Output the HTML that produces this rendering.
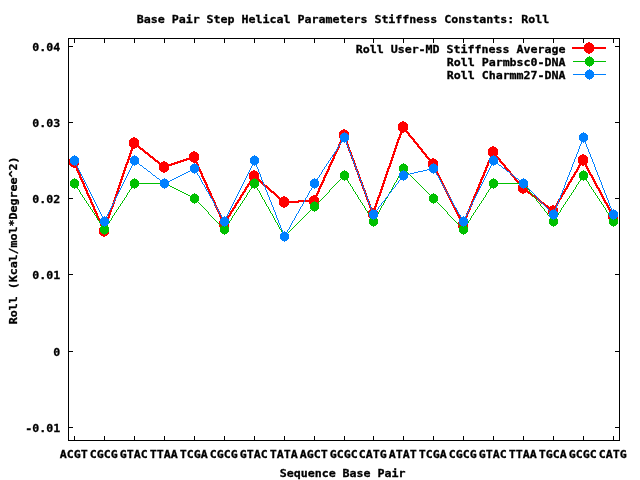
<!DOCTYPE html>
<html lang="en"><head><meta charset="utf-8"><title>Base Pair Step Helical Parameters Stiffness Constants: Roll</title>
<style>
html,body{margin:0;padding:0;background:#fff;}
body{width:640px;height:480px;overflow:hidden;}
svg{display:block;}
text{font-family:"DejaVu Sans Mono","Liberation Mono",monospace;font-weight:bold;font-size:11.627px;fill:#000;stroke:#000;stroke-width:0.3px;white-space:pre;}
.fr{fill:none;stroke:#000;stroke-width:1;shape-rendering:crispEdges;}
.px{stroke:none;shape-rendering:crispEdges;}
.r{fill:#ff0000;}.g{fill:#00c000;}.b{fill:#0080ff;}
</style></head><body>
<svg width="640" height="480" viewBox="0 0 640 480">
<defs>
<path id="ms" d="M0 -5h1v1h-1zM-2 -4h5v1h-5zM-3 -3h7v1h-7zM-4 -2h9v5h-9zM-3 3h7v1h-7zM-2 4h5v1h-5zM0 5h1v1h-1z"/>
<path id="mb" d="M-1 -6h2v1h-2zM-3 -5h6v1h-6zM-4 -4h8v1h-8zM-5 -3h10v6h-10zM-4 3h8v1h-8zM-3 4h6v1h-6zM-1 5h2v1h-2z"/>
</defs>
<rect x="0" y="0" width="640" height="480" fill="#ffffff"/>
<rect class="fr" x="68.5" y="38.5" width="551" height="402"/>
<path class="fr" d="M74.5 440V436M74.5 39V43M104.5 440V436M104.5 39V43M134.5 440V436M134.5 39V43M164.5 440V436M164.5 39V43M194.5 440V436M194.5 39V43M224.5 440V436M224.5 39V43M254.5 440V436M254.5 39V43M284.5 440V436M284.5 39V43M314.5 440V436M314.5 39V43M344.5 440V436M344.5 39V43M373.5 440V436M373.5 39V43M403.5 440V436M403.5 39V43M433.5 440V436M433.5 39V43M463.5 440V436M463.5 39V43M493.5 440V436M493.5 39V43M523.5 440V436M523.5 39V43M553.5 440V436M553.5 39V43M583.5 440V436M583.5 39V43M613.5 440V436M613.5 39V43M69 46.5H73M619 46.5H615M69 122.5H73M619 122.5H615M69 198.5H73M619 198.5H615M69 274.5H73M619 274.5H615M69 351.5H73M619 351.5H615M69 427.5H73M619 427.5H615"/>
<text transform="translate(136.7 23) scale(1 0.945)">Base Pair Step Helical Parameters Stiffness Constants: Roll</text>
<text transform="translate(32.2 51) scale(1 0.945)">0.04</text>
<text transform="translate(32.2 127) scale(1 0.945)">0.03</text>
<text transform="translate(32.2 203) scale(1 0.945)">0.02</text>
<text transform="translate(32.2 279) scale(1 0.945)">0.01</text>
<text transform="translate(53.2 356) scale(1 0.945)">0</text>
<text transform="translate(25.2 432) scale(1 0.945)">-0.01</text>
<text transform="translate(59.7 458) scale(1 0.945)">ACGT</text>
<text transform="translate(89.7 458) scale(1 0.945)">CGCG</text>
<text transform="translate(119.7 458) scale(1 0.945)">GTAC</text>
<text transform="translate(149.7 458) scale(1 0.945)">TTAA</text>
<text transform="translate(179.7 458) scale(1 0.945)">TCGA</text>
<text transform="translate(209.7 458) scale(1 0.945)">CGCG</text>
<text transform="translate(239.7 458) scale(1 0.945)">GTAC</text>
<text transform="translate(269.7 458) scale(1 0.945)">TATA</text>
<text transform="translate(299.7 458) scale(1 0.945)">AGCT</text>
<text transform="translate(329.7 458) scale(1 0.945)">GCGC</text>
<text transform="translate(358.7 458) scale(1 0.945)">CATG</text>
<text transform="translate(388.7 458) scale(1 0.945)">ATAT</text>
<text transform="translate(418.7 458) scale(1 0.945)">TCGA</text>
<text transform="translate(448.7 458) scale(1 0.945)">CGCG</text>
<text transform="translate(478.7 458) scale(1 0.945)">GTAC</text>
<text transform="translate(508.7 458) scale(1 0.945)">TTAA</text>
<text transform="translate(538.7 458) scale(1 0.945)">TGCA</text>
<text transform="translate(568.7 458) scale(1 0.945)">GCGC</text>
<text transform="translate(598.7 458) scale(1 0.945)">CATG</text>
<text transform="translate(279.7 477) scale(1 0.945)">Sequence Base Pair</text>
<text transform="translate(17 324.3) rotate(-90) scale(1 0.945)">Roll (Kcal/mol*Degree^2)</text>
<text transform="translate(355.7 53) scale(1 0.945)">Roll User-MD Stiffness Average</text>
<path class="px r" d="M573 47L606 47L606 49L573 49ZM572 47L605 47L605 49L572 49Z"/>
<use class="px r" href="#mb" x="589" y="48"/>
<text transform="translate(446.7 66) scale(1 0.945)">Roll Parmbsc0-DNA</text>
<path class="px g" d="M573 61L606 61L606 62L573 62Z"/>
<use class="px g" href="#ms" x="589" y="61"/>
<text transform="translate(446.7 79) scale(1 0.945)">Roll Charmm27-DNA</text>
<path class="px b" d="M573 74L606 74L606 75L573 75Z"/>
<use class="px b" href="#ms" x="589" y="74"/>
<path class="px r" d="M72.78 162L74.78 162L105.22 232L103.22 232ZM72.78 161L74.78 161L105.22 231L103.22 231ZM133.17 143L135.17 143L104.83 232L102.83 232ZM133.17 142L135.17 142L104.83 231L102.83 231ZM134 141.6L165 166.4L165 168.4L134 143.6ZM133 141.6L164 166.4L164 168.4L133 143.6ZM164 166.17L195 155.83L195 157.83L164 168.17ZM163 166.17L194 155.83L194 157.83L163 168.17ZM192.78 157L194.78 157L225.22 225L223.22 225ZM192.78 156L194.78 156L225.22 224L223.22 224ZM253.31 176L255.31 176L224.69 225L222.69 225ZM253.31 175L255.31 175L224.69 224L222.69 224ZM254 174.57L285 201.43L285 203.43L254 176.57ZM253 174.57L284 201.43L284 203.43L253 176.57ZM284 201.02L315 199.98L315 201.98L284 203.02ZM283 201.02L314 199.98L314 201.98L283 203.02ZM343.23 135L345.23 135L314.77 202L312.77 202ZM343.23 134L345.23 134L314.77 201L312.77 201ZM342.82 135L344.82 135L374.18 215L372.18 215ZM342.82 134L344.82 134L374.18 214L372.18 214ZM402.17 127L404.17 127L373.83 215L371.83 215ZM402.17 126L404.17 126L373.83 214L371.83 214ZM401.59 127L403.59 127L434.41 165L432.41 165ZM401.59 126L403.59 126L434.41 164L432.41 164ZM431.75 164L433.75 164L464.25 226L462.25 226ZM431.75 163L433.75 163L464.25 225L462.25 225ZM492.21 152L494.21 152L463.79 226L461.79 226ZM492.21 151L494.21 151L463.79 225L461.79 225ZM491.58 152L493.58 152L524.42 189L522.42 189ZM491.58 151L493.58 151L524.42 188L522.42 188ZM523 186.62L554 210.38L554 212.38L523 188.62ZM522 186.62L553 210.38L553 212.38L522 188.62ZM582.29 160L584.29 160L553.71 212L551.71 212ZM582.29 159L584.29 159L553.71 211L551.71 211ZM581.73 160L583.73 160L614.27 217L612.27 217ZM581.73 159L583.73 159L614.27 216L612.27 216Z"/>
<use class="px r" href="#mb" x="74" y="162"/>
<use class="px r" href="#mb" x="104" y="231"/>
<use class="px r" href="#mb" x="134" y="143"/>
<use class="px r" href="#mb" x="164" y="167"/>
<use class="px r" href="#mb" x="194" y="157"/>
<use class="px r" href="#mb" x="224" y="224"/>
<use class="px r" href="#mb" x="254" y="176"/>
<use class="px r" href="#mb" x="284" y="202"/>
<use class="px r" href="#mb" x="314" y="201"/>
<use class="px r" href="#mb" x="344" y="135"/>
<use class="px r" href="#mb" x="373" y="214"/>
<use class="px r" href="#mb" x="403" y="127"/>
<use class="px r" href="#mb" x="433" y="164"/>
<use class="px r" href="#mb" x="463" y="225"/>
<use class="px r" href="#mb" x="493" y="152"/>
<use class="px r" href="#mb" x="523" y="188"/>
<use class="px r" href="#mb" x="553" y="211"/>
<use class="px r" href="#mb" x="583" y="160"/>
<use class="px r" href="#mb" x="613" y="216"/>
<path class="px g" d="M73.67 183L74.67 183L105.33 230L104.33 230ZM134.33 183L135.33 183L104.67 230L103.67 230ZM134 183L165 183L165 184L134 184ZM164 182.75L195 198.25L195 199.25L164 183.75ZM193.52 198L194.52 198L225.48 230L224.48 230ZM254.33 183L255.33 183L224.67 230L223.67 230ZM253.72 183L254.72 183L285.28 237L284.28 237ZM284 236.5L315 205.5L315 206.5L284 237.5ZM344.48 175L345.48 175L314.52 207L313.52 207ZM343.68 175L344.68 175L374.32 222L373.32 222ZM403.28 168L404.28 168L373.72 222L372.72 222ZM403 167.5L434 198.5L434 199.5L403 168.5ZM432.52 198L433.52 198L464.48 230L463.48 230ZM493.33 183L494.33 183L463.67 230L462.67 230ZM493 183L524 183L524 184L493 184ZM522.61 183L523.61 183L554.39 222L553.39 222ZM583.33 175L584.33 175L553.67 222L552.67 222ZM582.67 175L583.67 175L614.33 222L613.33 222Z"/>
<use class="px g" href="#ms" x="74" y="183"/>
<use class="px g" href="#ms" x="104" y="229"/>
<use class="px g" href="#ms" x="134" y="183"/>
<use class="px g" href="#ms" x="164" y="183"/>
<use class="px g" href="#ms" x="194" y="198"/>
<use class="px g" href="#ms" x="224" y="229"/>
<use class="px g" href="#ms" x="254" y="183"/>
<use class="px g" href="#ms" x="284" y="236"/>
<use class="px g" href="#ms" x="314" y="206"/>
<use class="px g" href="#ms" x="344" y="175"/>
<use class="px g" href="#ms" x="373" y="221"/>
<use class="px g" href="#ms" x="403" y="168"/>
<use class="px g" href="#ms" x="433" y="198"/>
<use class="px g" href="#ms" x="463" y="229"/>
<use class="px g" href="#ms" x="493" y="183"/>
<use class="px g" href="#ms" x="523" y="183"/>
<use class="px g" href="#ms" x="553" y="221"/>
<use class="px g" href="#ms" x="583" y="175"/>
<use class="px g" href="#ms" x="613" y="221"/>
<path class="px b" d="M73.75 160L74.75 160L105.25 222L104.25 222ZM134.25 160L135.25 160L104.75 222L103.75 222ZM134 159.62L165 183.38L165 184.38L134 160.62ZM164 183.25L195 167.75L195 168.75L164 184.25ZM193.72 168L194.72 168L225.28 222L224.28 222ZM254.25 160L255.25 160L224.75 222L223.75 222ZM253.8 160L254.8 160L285.2 237L284.2 237ZM314.28 183L315.28 183L284.72 237L283.72 237ZM344.33 137L345.33 137L314.67 184L313.67 184ZM343.81 137L344.81 137L374.19 215L373.19 215ZM403.38 175L404.38 175L373.62 215L372.62 215ZM403 175.12L434 167.88L434 168.88L403 176.12ZM432.72 168L433.72 168L464.28 222L463.28 222ZM493.25 160L494.25 160L463.75 222L462.75 222ZM493 159.62L524 183.38L524 184.38L493 160.62ZM522.52 183L523.52 183L554.48 215L553.48 215ZM583.19 137L584.19 137L553.81 215L552.81 215ZM582.81 137L583.81 137L614.19 215L613.19 215Z"/>
<use class="px b" href="#ms" x="74" y="160"/>
<use class="px b" href="#ms" x="104" y="221"/>
<use class="px b" href="#ms" x="134" y="160"/>
<use class="px b" href="#ms" x="164" y="183"/>
<use class="px b" href="#ms" x="194" y="168"/>
<use class="px b" href="#ms" x="224" y="221"/>
<use class="px b" href="#ms" x="254" y="160"/>
<use class="px b" href="#ms" x="284" y="236"/>
<use class="px b" href="#ms" x="314" y="183"/>
<use class="px b" href="#ms" x="344" y="137"/>
<use class="px b" href="#ms" x="373" y="214"/>
<use class="px b" href="#ms" x="403" y="175"/>
<use class="px b" href="#ms" x="433" y="168"/>
<use class="px b" href="#ms" x="463" y="221"/>
<use class="px b" href="#ms" x="493" y="160"/>
<use class="px b" href="#ms" x="523" y="183"/>
<use class="px b" href="#ms" x="553" y="214"/>
<use class="px b" href="#ms" x="583" y="137"/>
<use class="px b" href="#ms" x="613" y="214"/>
</svg>
</body></html>
